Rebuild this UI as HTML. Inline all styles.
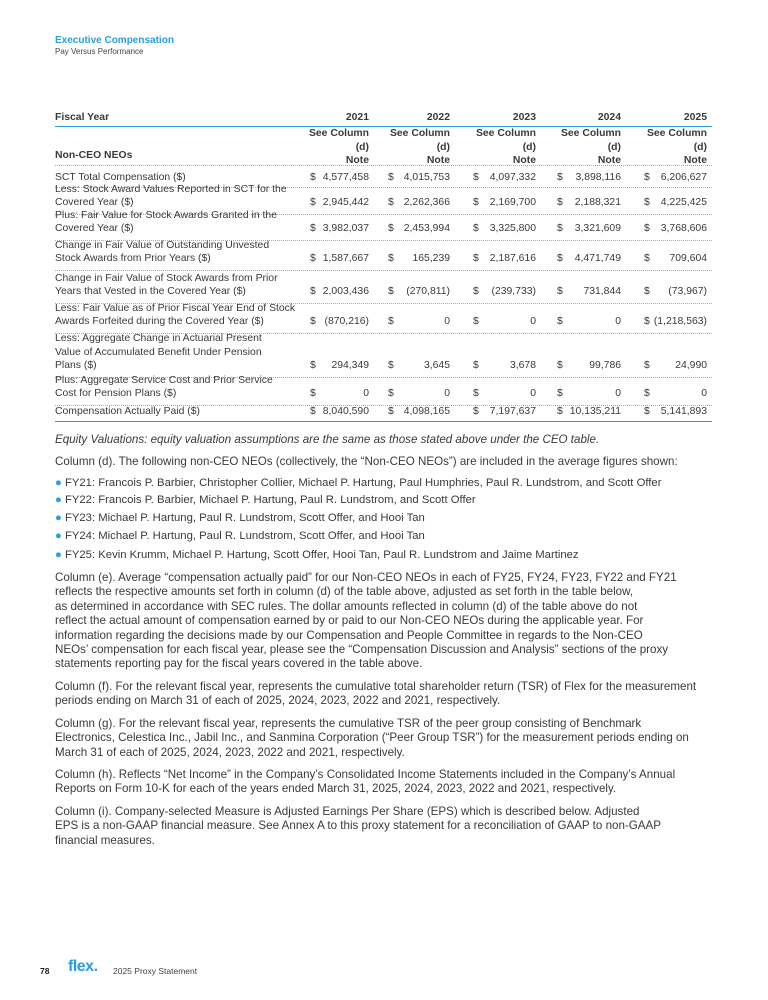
<!DOCTYPE html>
<html><head><meta charset="utf-8"><style>
body{margin:0;background:#fff;width:768px;height:1000px;position:relative;font-family:"Liberation Sans",sans-serif;color:#3a3a3a;overflow:hidden}
.a{position:absolute;white-space:nowrap}
.t{font-size:10.4px;line-height:13.6px}
.p{font-size:11.6px;line-height:14.4px}
.b{font-size:11.3px;line-height:14.4px}
.r{text-align:right}
.ln{position:absolute;left:55px;width:657px;height:0;border-top:1px dotted #aaa}
.dot{color:#2a9ee0}
</style></head><body>
<div class="a" style="left:55px;top:35px;font-size:10px;color:#2a9ee0;font-weight:bold">Executive Compensation</div>
<div class="a" style="left:55px;top:47px;font-size:8px;color:#444">Pay Versus Performance</div>

<div class="a t" style="left:55px;top:111px;font-weight:bold">Fiscal Year</div>
<div style="position:absolute;left:55px;top:126px;width:657px;border-top:1.5px solid #2a9ee0"></div>
<div class="a t" style="left:55px;top:149px;font-weight:bold">Non-CEO NEOs</div>

<div id="tbl"></div>

<div class="a p" style="left:55px;top:433px;font-style:italic">Equity Valuations: equity valuation assumptions are the same as those stated above under the CEO table.</div>
<div class="a p" style="left:55px;top:455px">Column (d). The following non-CEO NEOs (collectively, the “Non-CEO NEOs”) are included in the average figures shown:</div>
<div class="a b" style="left:55px;top:476px"><span class="dot">●</span> FY21: Francois P. Barbier, Christopher Collier, Michael P. Hartung, Paul Humphries, Paul R. Lundstrom, and Scott Offer</div>
<div class="a b" style="left:55px;top:493px"><span class="dot">●</span> FY22: Francois P. Barbier, Michael P. Hartung, Paul R. Lundstrom, and Scott Offer</div>
<div class="a b" style="left:55px;top:511px"><span class="dot">●</span> FY23: Michael P. Hartung, Paul R. Lundstrom, Scott Offer, and Hooi Tan</div>
<div class="a b" style="left:55px;top:529px"><span class="dot">●</span> FY24: Michael P. Hartung, Paul R. Lundstrom, Scott Offer, and Hooi Tan</div>
<div class="a b" style="left:55px;top:548px"><span class="dot">●</span> FY25: Kevin Krumm, Michael P. Hartung, Scott Offer, Hooi Tan, Paul R. Lundstrom and Jaime Martinez</div>
<div class="a p" style="left:55px;top:571px">Column (e). Average “compensation actually paid” for our Non-CEO NEOs in each of FY25, FY24, FY23, FY22 and FY21<br>reflects the respective amounts set forth in column (d) of the table above, adjusted as set forth in the table below,<br>as determined in accordance with SEC rules. The dollar amounts reflected in column (d) of the table above do not<br>reflect the actual amount of compensation earned by or paid to our Non-CEO NEOs during the applicable year. For<br>information regarding the decisions made by our Compensation and People Committee in regards to the Non-CEO<br>NEOs’ compensation for each fiscal year, please see the “Compensation Discussion and Analysis” sections of the proxy<br>statements reporting pay for the fiscal years covered in the table above.</div>
<div class="a p" style="left:55px;top:680px">Column (f). For the relevant fiscal year, represents the cumulative total shareholder return (TSR) of Flex for the measurement<br>periods ending on March 31 of each of 2025, 2024, 2023, 2022 and 2021, respectively.</div>
<div class="a p" style="left:55px;top:717px">Column (g). For the relevant fiscal year, represents the cumulative TSR of the peer group consisting of Benchmark<br>Electronics, Celestica Inc., Jabil Inc., and Sanmina Corporation (“Peer Group TSR”) for the measurement periods ending on<br>March 31 of each of 2025, 2024, 2023, 2022 and 2021, respectively.</div>
<div class="a p" style="left:55px;top:768px">Column (h). Reflects “Net Income” in the Company’s Consolidated Income Statements included in the Company’s Annual<br>Reports on Form 10-K for each of the years ended March 31, 2025, 2024, 2023, 2022 and 2021, respectively.</div>
<div class="a p" style="left:55px;top:805px">Column (i). Company-selected Measure is Adjusted Earnings Per Share (EPS) which is described below. Adjusted<br>EPS is a non-GAAP financial measure. See Annex A to this proxy statement for a reconciliation of GAAP to non-GAAP<br>financial measures.</div>

<div class="a" style="left:40px;top:966px;font-size:8.5px;font-weight:bold;color:#222">78</div>
<div class="a" style="left:68px;top:958px;font-size:16px;font-weight:bold;color:#2a9ee0;letter-spacing:-0.5px">flex.</div>
<div class="a" style="left:113px;top:966px;font-size:8.5px;color:#444">2025 Proxy Statement</div>

<script>
var dol=[310,388,473,557,644],rt=[369,450,536,621,707];
var yrs=["2021","2022","2023","2024","2025"];
var h='';
for(var i=0;i<5;i++){
h+='<div class="a t r" style="right:'+(768-rt[i])+'px;top:111px;font-weight:bold">'+yrs[i]+'</div>';
h+='<div class="a t r" style="right:'+(768-rt[i])+'px;top:127px;font-weight:bold">See Column<br>(d)<br>Note</div>';
}
var rows=[
[166,187,["SCT Total Compensation ($)"],["4,577,458","4,015,753","4,097,332","3,898,116","6,206,627"]],
[188,214,["Less: Stock Award Values Reported in SCT for the","Covered Year ($)"],["2,945,442","2,262,366","2,169,700","2,188,321","4,225,425"]],
[215,240,["Plus: Fair Value for Stock Awards Granted in the","Covered Year ($)"],["3,982,037","2,453,994","3,325,800","3,321,609","3,768,606"]],
[241,270,["Change in Fair Value of Outstanding Unvested","Stock Awards from Prior Years ($)"],["1,587,667","165,239","2,187,616","4,471,749","709,604"]],
[271,303,["Change in Fair Value of Stock Awards from Prior","Years that Vested in the Covered Year ($)"],["2,003,436","(270,811)","(239,733)","731,844","(73,967)"]],
[304,333,["Less: Fair Value as of Prior Fiscal Year End of Stock","Awards Forfeited during the Covered Year ($)"],["(870,216)","0","0","0","(1,218,563)"]],
[334,377,["Less: Aggregate Change in Actuarial Present","Value of Accumulated Benefit Under Pension","Plans ($)"],["294,349","3,645","3,678","99,786","24,990"]],
[378,405,["Plus: Aggregate Service Cost and Prior Service","Cost for Pension Plans ($)"],["0","0","0","0","0"]],
[406,421,["Compensation Actually Paid ($)"],["8,040,590","4,098,165","7,197,637","10,135,211","5,141,893"]]
];
h+='<div class="ln" style="top:165px"></div>';
rows.forEach(function(r,k){
var top=r[0],bot=r[1],n=r[2].length;
var ty=(n==1)?(bot-16):(bot-3-n*13.6-1);
h+='<div class="a t" style="left:55px;top:'+ty+'px">'+r[2].join('<br>')+'</div>';
var vy=(n==1)?(bot-16):(bot-3-13.6-1);
for(var i=0;i<5;i++){
h+='<div class="a t" style="left:'+dol[i]+'px;top:'+vy+'px">$</div>';
h+='<div class="a t r" style="right:'+(768-rt[i])+'px;top:'+vy+'px">'+r[3][i]+'</div>';
}
if(k<rows.length-1)h+='<div class="ln" style="top:'+bot+'px"></div>';
else h+='<div style="position:absolute;left:55px;width:657px;top:'+bot+'px;border-top:1.5px solid #2a9ee0"></div>';
});
document.getElementById('tbl').innerHTML=h;
</script>
</body></html>
